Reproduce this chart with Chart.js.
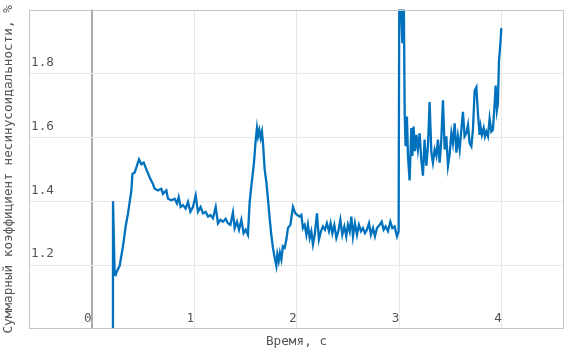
<!DOCTYPE html>
<html><head><meta charset="utf-8">
<script src="https://cdn.jsdelivr.net/npm/chart.js@4"></script>
<style>html,body{margin:0;padding:0;background:#fff}#wrap{width:574px;height:354px}</style>
</head><body><div id="wrap"><canvas id="c"></canvas></div>
<script>
const xTitle = "Время, с";
const yTitle = "Суммарный коэффициент несинусоидальности, %";
const xTicks = [0, 1, 2, 3, 4];
const yTicks = [1.2, 1.4, 1.6, 1.8];
const timeValues = [
0.208,0.209,0.225,0.235,0.248,0.274,0.306,0.332,0.355,0.388,0.398,0.420,0.437,0.462,0.485,0.508,0.534,0.566,0.598,0.615,
0.647,0.680,0.696,0.729,0.745,0.778,0.810,0.832,0.849,0.868,0.891,0.917,0.940,0.963,0.988,1.015,1.037,1.063,1.086,1.112,
1.135,1.158,1.183,1.210,1.232,1.255,1.281,1.307,1.329,1.353,1.378,1.395,1.417,1.437,1.460,1.482,1.502,1.524,1.541,1.558,
1.583,1.599,1.612,1.622,1.635,1.648,1.661,1.671,1.687,1.704,1.719,1.736,1.752,1.768,1.785,1.801,1.811,1.824,1.836,1.850,
1.865,1.882,1.899,1.914,1.938,1.963,1.986,2.006,2.028,2.045,2.060,2.077,2.094,2.109,2.126,2.142,2.158,2.175,2.197,2.216,
2.236,2.255,2.275,2.294,2.314,2.330,2.347,2.366,2.386,2.405,2.425,2.444,2.464,2.483,2.499,2.516,2.532,2.548,2.567,2.587,
2.606,2.626,2.645,2.665,2.684,2.704,2.723,2.743,2.762,2.782,2.808,2.828,2.847,2.866,2.889,2.912,2.932,2.954,2.977,2.993,
3.000,3.029,3.042,3.052,3.061,3.074,3.084,3.100,3.117,3.127,3.139,3.152,3.166,3.181,3.198,3.214,3.230,3.246,3.263,3.279,
3.295,3.312,3.327,3.344,3.361,3.376,3.393,3.409,3.425,3.442,3.458,3.474,3.490,3.507,3.522,3.539,3.556,3.571,3.588,3.604,
3.620,3.636,3.653,3.669,3.685,3.702,3.717,3.734,3.751,3.766,3.783,3.792,3.805,3.822,3.834,3.848,3.864,3.880,3.897,3.912,
3.929,3.939,3.951,3.961,3.971,3.984,3.994
];
const thdValues = [
0.95,1.400,1.172,1.169,1.182,1.198,1.259,1.321,1.362,1.434,1.485,1.490,1.506,1.531,1.516,1.521,1.500,1.475,1.454,1.439,
1.434,1.439,1.423,1.434,1.408,1.403,1.408,1.393,1.413,1.382,1.388,1.377,1.398,1.367,1.382,1.418,1.367,1.382,1.362,1.367,
1.352,1.357,1.347,1.382,1.331,1.342,1.336,1.345,1.331,1.326,1.365,1.316,1.336,1.311,1.342,1.300,1.311,1.295,1.398,1.449,
1.521,1.588,1.629,1.603,1.623,1.598,1.618,1.582,1.500,1.459,1.408,1.346,1.295,1.254,1.223,1.198,1.234,1.213,1.239,1.218,
1.259,1.254,1.280,1.316,1.326,1.382,1.362,1.357,1.352,1.357,1.316,1.326,1.295,1.326,1.285,1.306,1.265,1.295,1.362,1.280,
1.306,1.321,1.311,1.331,1.306,1.331,1.300,1.326,1.285,1.306,1.342,1.295,1.321,1.290,1.326,1.306,1.352,1.290,1.331,1.295,
1.326,1.306,1.316,1.300,1.311,1.331,1.295,1.316,1.290,1.316,1.326,1.336,1.311,1.321,1.306,1.336,1.316,1.321,1.290,1.306,
2.150,1.895,2.100,1.675,1.572,1.665,1.542,1.465,1.629,1.542,1.634,1.557,1.608,1.562,1.613,1.531,1.480,1.593,1.511,1.572,
1.711,1.552,1.521,1.562,1.542,1.593,1.521,1.593,1.716,1.562,1.603,1.511,1.546,1.613,1.582,1.644,1.552,1.603,1.562,1.623,
1.680,1.603,1.613,1.639,1.582,1.572,1.623,1.746,1.757,1.675,1.608,1.634,1.608,1.629,1.603,1.618,1.603,1.659,1.618,1.623,
1.706,1.762,1.685,1.706,1.839,1.890,1.942
];

const points = timeValues.map((t, i) => ({x: t, y: thdValues[i]}));
const FONT = {family: "'DejaVu Sans Mono', monospace", size: 12.7};
const TXT = '#555';

const frame = {
  id: 'frame',
  afterDraw(chart) {
    const {ctx, chartArea: a} = chart;
    ctx.save();
    ctx.strokeStyle = '#c4c4c4';
    ctx.lineWidth = 1;
    ctx.strokeRect(Math.round(a.left) + 0.5, Math.round(a.top) + 0.5, Math.round(a.right - a.left) - 1, Math.round(a.bottom - a.top) - 1);
    ctx.restore();
  }
};

new Chart(document.getElementById('c'), {
  type: 'line',
  data: {datasets: [{
    data: points,
    borderColor: '#0072BD',
    borderWidth: 2.3,
    pointRadius: 0,
    tension: 0,
    fill: false,
    clip: 0
  }]},
  options: {
    responsive: true,
    maintainAspectRatio: false,
    animation: false,
    layout: {padding: {top: 5, right: 10, left: 0, bottom: 0}},
    plugins: {legend: {display: false}, tooltip: {enabled: false}},
    scales: {
      x: {
        type: 'linear', min: -0.61, max: 4.605,
        afterBuildTicks: s => { s.ticks = xTicks.map(v => ({value: v})); },
        afterFit: s => { s.height = 25; },
        border: {display: false},
        grid: {
          drawTicks: false,
          color: c => (c.tick && c.tick.value === 0) ? '#ababab' : '#e8e8e8',
          lineWidth: c => (c.tick && c.tick.value === 0) ? 2 : 1
        },
        ticks: {
          mirror: true, align: 'end', labelOffset: 0, padding: 3,
          font: FONT, color: TXT,
          callback: v => String(v)
        },
        title: {display: true, text: xTitle, font: FONT, color: TXT, padding: {top: 0, bottom: 5}}
      },
      y: {
        type: 'linear', min: 1.0, max: 2.0,
        afterBuildTicks: s => { s.ticks = yTicks.map(v => ({value: v})); },
        afterFit: s => { s.width = 29; },
        border: {display: false},
        grid: {drawTicks: false, color: '#e8e8e8', lineWidth: 1},
        ticks: {
          mirror: true, padding: 2, labelOffset: -11,
          font: FONT, color: TXT,
          callback: v => Number(v).toFixed(1)
        },
        title: {display: true, text: yTitle, font: FONT, color: TXT, padding: {top: 1, bottom: 0}}
      }
    }
  },
  plugins: [frame]
});
</script></body></html>
